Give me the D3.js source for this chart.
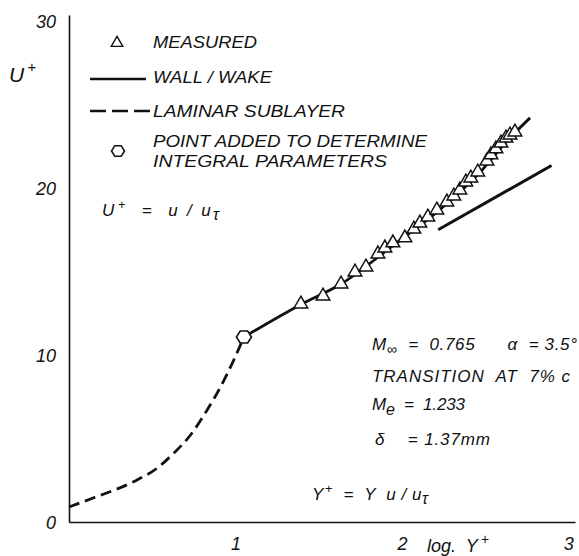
<!DOCTYPE html>
<html><head><meta charset="utf-8">
<script src="https://cdn.jsdelivr.net/npm/d3@7"></script>
<style>
body{margin:0;background:#fff}
text{font-family:"Liberation Sans",Arial,sans-serif;font-style:italic;fill:#111;white-space:pre}
</style>
</head><body><svg id="c" width="579" height="556"></svg>
<script>
// ---- data ----
const measuredLogY = [1.393,1.526,1.634,1.718,1.784,1.856,1.898,1.946,2.018,2.072,2.108,2.156,2.210,2.270,2.312,2.348,2.384,2.414,2.456,2.511,2.535,2.565,2.595,2.625,2.649,2.679];
const measuredU    = [13.05,13.53,14.25,14.97,15.27,16.05,16.41,16.71,17.01,17.54,17.90,18.26,18.68,19.16,19.52,19.88,20.36,20.60,20.96,21.62,21.98,22.34,22.69,22.99,23.17,23.35];
const addedLogY = [1.051];
const addedU    = [11.08];
const wallWakeLogY = [1.051,1.388,1.634,1.946,2.21,2.456,2.649,2.77];
const wallWakeU    = [11.08,13.00,14.25,16.55,18.55,20.80,23.00,24.20];
const sublayerLogY = [0,0.145,0.385,0.53,0.63,0.73,0.83,0.91,0.99,1.051];
const sublayerU    = [0.90,1.44,2.40,3.23,4.13,5.21,6.71,8.08,9.70,11.08];
const logLawLogY = [2.218,2.899];
const logLawU    = [17.50,21.35];
const xTicks = [1,2,3];
const yTicks = [0,10,20,30];
const legendLabels = ["MEASURED","WALL / WAKE","LAMINAR SUBLAYER","POINT ADDED TO DETERMINE","INTEGRAL PARAMETERS"];

const svg = d3.select("#c");
const x = d3.scaleLinear().domain([0,3.04]).range([69,575]);
const y = d3.scaleLinear().domain([0,30.36]).range([522,15]);

// axes
const ax = svg.append("g").attr("transform","translate(0,"+y(0)+")")
  .call(d3.axisBottom(x).tickValues(xTicks).tickSize(0).tickPadding(15).tickSizeOuter(0).tickFormat(d3.format("d")));
const ay = svg.append("g").attr("transform","translate("+x(0)+",0)")
  .call(d3.axisLeft(y).tickValues(yTicks).tickSize(0).tickPadding(13).tickSizeOuter(0).tickFormat(d3.format("d")));
[ax,ay].forEach(a=>{
  a.attr("font-family","'Liberation Sans',Arial,sans-serif").attr("font-size",18);
  a.select(".domain").attr("stroke","#111").attr("stroke-width",1.6);
  a.selectAll("text").attr("font-size",18).attr("fill","#111").attr("font-style","italic").style("font-style","italic");
});
ay.selectAll(".tick text").attr("dy","0.36em");

const line = d3.line().x(d=>x(d[0])).y(d=>y(d[1]));
const lineC = d3.line().x(d=>x(d[0])).y(d=>y(d[1])).curve(d3.curveMonotoneX);
const zip = (a,b)=>a.map((v,i)=>[v,b[i]]);

// sublayer dashed
svg.append("path").attr("d",lineC(zip(sublayerLogY,sublayerU)))
  .attr("fill","none").attr("stroke","#111").attr("stroke-width",2.8).attr("stroke-dasharray","11,6");
// wall/wake
svg.append("path").attr("d",lineC(zip(wallWakeLogY,wallWakeU)))
  .attr("fill","none").attr("stroke","#111").attr("stroke-width",2.8);
// log law
svg.append("path").attr("d",line(zip(logLawLogY,logLawU)))
  .attr("fill","none").attr("stroke","#111").attr("stroke-width",3);

// markers
const tri = d3.symbol().type(d3.symbolTriangle).size(80);
svg.append("g").selectAll("path").data(zip(measuredLogY,measuredU)).join("path")
  .attr("d",tri).attr("transform",d=>`translate(${x(d[0])},${y(d[1])})`)
  .attr("fill","#fff").attr("stroke","#111").attr("stroke-width",1.5);

function hexPath(r){
  const p=d3.path();
  for(let i=0;i<6;i++){const a=Math.PI/3*i;const px=r*Math.cos(a),py=r*Math.sin(a)*0.92;i?p.lineTo(px,py):p.moveTo(px,py);}
  p.closePath();return p.toString();
}
svg.append("g").selectAll("path").data(zip(addedLogY,addedU)).join("path")
  .attr("d",hexPath(7.5)).attr("transform",d=>`translate(${x(d[0])},${y(d[1])})`)
  .attr("fill","#fff").attr("stroke","#111").attr("stroke-width",1.6);

// legend
const lg = svg.append("g");
lg.append("path").attr("d",d3.symbol().type(d3.symbolTriangle).size(58)).attr("transform","translate(117,43)")
  .attr("fill","#fff").attr("stroke","#111").attr("stroke-width",1.4);
lg.append("line").attr("x1",90).attr("x2",146).attr("y1",79).attr("y2",79).attr("stroke","#111").attr("stroke-width",2.6);
lg.append("line").attr("x1",90).attr("x2",152).attr("y1",111).attr("y2",111).attr("stroke","#111").attr("stroke-width",2.6).attr("stroke-dasharray","16,6");
lg.append("path").attr("d",hexPath(6.5)).attr("transform","translate(118,151)")
  .attr("fill","#fff").attr("stroke","#111").attr("stroke-width",1.5);
const legPos = [[48,104],[83,119],[117,192],[147,274],[167,234]];
legendLabels.forEach((t,i)=>{
  lg.append("text").attr("x",153).attr("y",legPos[i][0]).attr("font-size",17)
    .attr("textLength",legPos[i][1]).attr("lengthAdjust","spacingAndGlyphs").text(t);
});

// text helper
function T(xp,yp,size,parts,len){
  const t=svg.append("text").attr("x",xp).attr("y",yp).attr("font-size",size);
  if(len) t.attr("textLength",len).attr("lengthAdjust","spacing");
  parts.forEach(p=>{
    const s=t.append("tspan").text(p.t);
    if(p.dy) s.attr("dy",p.dy);
    if(p.fs) s.attr("font-size",p.fs);
    if(p.dx) s.attr("dx",p.dx);
  });
  return t;
}
// U+ axis title
T(9,82,21,[{t:"U"},{t:"+",dy:-10,fs:15,dx:3}]);
// U+ = u/uτ
T(102,216,17,[{t:"U"},{t:"+",dy:-7,fs:13,dx:1},{t:"  =  u / u",dy:7},{t:"τ",dy:4,fs:16}],117);
// annotations
T(372,350,17,[{t:"M"},{t:"∞",dy:4,fs:14},{t:"  =  0.765      α  = 3.5°",dy:-4}],205);
T(372,382,17,[{t:"TRANSITION  AT  7% c"}],198);
T(372,410,17,[{t:"M"},{t:"e",dy:5,fs:16},{t:"  =  1.233",dy:-5}],93);
T(375,445,17,[{t:"δ    = 1.37mm"}],115);
T(312,500,17,[{t:"Y"},{t:"+",dy:-7,fs:13,dx:1},{t:"  =  Y  u / u",dy:7},{t:"τ",dy:4,fs:16}],116);
// x axis title
T(427,552,18,[{t:"log.  Y"},{t:"+",dy:-8,fs:14,dx:3}]);
</script></body></html>
